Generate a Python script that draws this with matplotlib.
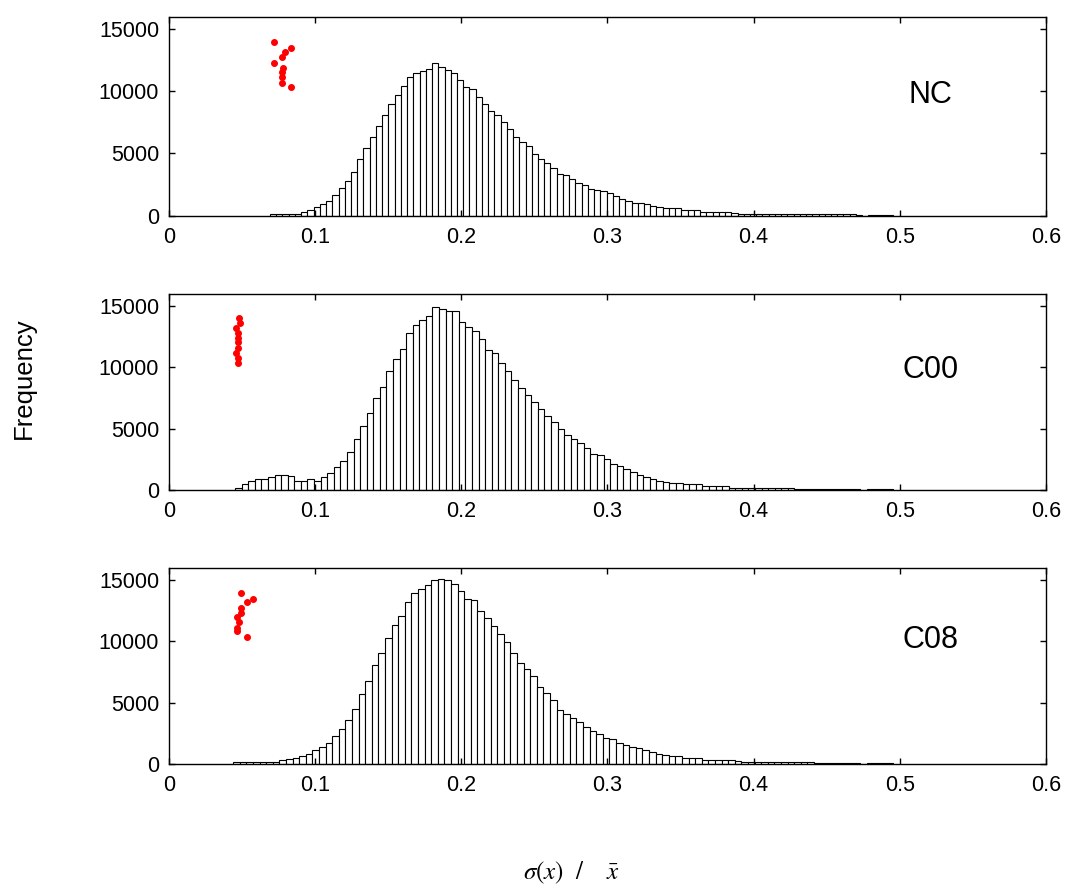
import matplotlib
matplotlib.use("Agg")
import matplotlib.pyplot as plt
import numpy as np

plt.rcParams["font.family"] = ["Liberation Sans", "DejaVu Sans"]
plt.rcParams["mathtext.fontset"] = "stix"

# bin ranges (lower edge of first bin, upper edge of last bin), 100 bins each
NC_RANGE = (0.0691, 0.4956)
C00_RANGE = (0.0452, 0.4955)
C08_RANGE = (0.0440, 0.4955)

NC_COUNTS = [
    120, 130, 130, 140, 160,
    267, 427, 694, 907, 1174, 1628, 2189, 2802, 3523, 4564,
    5471, 6326, 7206, 8114, 8968, 9715, 10436, 11183, 11503, 11663,
    11824, 12251, 11930, 11744, 11503, 10890, 10329, 10196, 9555, 8995,
    8407, 8114, 7527, 6939, 6326, 5925, 5578, 4991, 4564, 4244,
    3843, 3390, 3230, 2909, 2642, 2455, 2162, 2055, 2000, 1842,
    1575, 1335, 1174, 1041, 1041, 907, 774, 721, 587, 587,
    587, 427, 427, 427, 320, 320, 320, 320, 320, 187,
    150, 150, 145, 140, 140, 135, 130, 130, 125, 120,
    120, 115, 110, 110, 105, 100, 100, 95, 95, 90,
    0, 90, 85, 85, 80,
]

C00_COUNTS = [
    135, 460, 757, 919, 919, 1054, 1216, 1216, 1135, 757,
    757, 919, 757, 1054, 1351, 1838, 2406, 3135, 4189, 5217,
    6298, 7487, 8379, 9703, 10730, 11487, 12811, 13433, 13892, 14190,
    14946, 14784, 14649, 14649, 13730, 13298, 12946, 12352, 11460, 11162,
    10325, 9703, 8946, 8352, 7757, 7190, 6596, 6000, 5514, 4973,
    4514, 4189, 3865, 3433, 2973, 2892, 2568, 2162, 1973, 1676,
    1487, 1216, 1081, 865, 730, 676, 595, 595, 460, 460,
    460, 324, 324, 324, 324, 189,
    150, 150, 145, 140, 140, 135, 130, 130, 125, 120,
    120, 115, 110, 110, 105, 100, 100, 95, 95,
    0, 90, 85, 85, 80,
]

C08_COUNTS = [
    140, 150, 160, 160, 160, 170, 170,
    349, 403, 484, 618, 806, 1129, 1371, 1693, 2285, 2876,
    3629, 4489, 5699, 6747, 8064, 9085, 10321, 11316, 12042, 13252,
    13978, 14246, 14569, 15000, 15134, 15000, 14730, 14139, 13467, 13360,
    12526, 11881, 11290, 10618, 9946, 9085, 8279, 7742, 7204, 6263,
    5752, 5242, 4382, 4113, 3763, 3441, 2984, 2715,
    2450, 2150, 2043, 1693, 1532, 1371, 1290, 1156, 968, 806,
    699, 618, 618, 484, 484, 484, 349, 349, 349, 349, 349, 215,
    160, 155, 150, 150, 145, 140, 135, 130, 130, 125,
    120, 115, 110, 110, 105, 100, 100, 95,
    0, 90, 85, 85, 80,
]

# red reference points (x, frequency)
NC_PTS_X = [0.0720, 0.0835, 0.0796, 0.0771, 0.0720, 0.0782, 0.0771, 0.0771, 0.0771, 0.0835]
NC_PTS_Y = [13927, 13479, 13183, 12726, 12302, 11878, 11558, 11126, 10701, 10381]
C00_PTS_X = [0.0481, 0.0486, 0.0458, 0.0470, 0.0470, 0.0470, 0.0470, 0.0458, 0.0470, 0.0470]
C00_PTS_Y = [14051, 13597, 13240, 12810, 12405, 12053, 11622, 11162, 10811, 10378]
C08_PTS_X = [0.0493, 0.0573, 0.0531, 0.0493, 0.0493, 0.0467, 0.0481, 0.0467, 0.0467, 0.0531]
C08_PTS_Y = [13953, 13494, 13196, 12740, 12309, 12011, 11554, 11097, 10827, 10397]

PANELS = [
    ("NC", NC_RANGE, NC_COUNTS, NC_PTS_X, NC_PTS_Y, [0.1585, 0.7585, 0.8227, 0.2228], 0.607),
    ("C00", C00_RANGE, C00_COUNTS, C00_PTS_X, C00_PTS_Y, [0.1585, 0.4513, 0.8227, 0.2195], 0.612),
    ("C08", C08_RANGE, C08_COUNTS, C08_PTS_X, C08_PTS_Y, [0.1585, 0.1445, 0.8227, 0.2195], 0.633),
]

fig = plt.figure(figsize=(10.66, 8.93), dpi=100)

for name, rng, counts, px, py, pos, ty in PANELS:
    ax = fig.add_axes(pos)
    edges = np.linspace(rng[0], rng[1], len(counts) + 1)
    ax.bar(edges[:-1], counts, width=np.diff(edges), align="edge",
           facecolor="white", edgecolor="black", linewidth=0.8)
    ax.plot(px, py, "o", color="red", ms=4, mec="red")
    ax.set_xlim(0, 0.6)
    ax.set_ylim(0, 16000)
    ax.set_xticks([0, 0.1, 0.2, 0.3, 0.4, 0.5, 0.6])
    ax.set_xticklabels(["0", "0.1", "0.2", "0.3", "0.4", "0.5", "0.6"])
    ax.set_yticks([0, 5000, 10000, 15000])
    ax.tick_params(direction="in", top=True, right=True, length=4,
                   width=1, labelsize=15.5)
    ax.tick_params(axis="x", pad=8)
    ax.tick_params(axis="y", pad=7)
    for sp in ax.spines.values():
        sp.set_linewidth(1)
    ax.text(0.868, ty, name, transform=ax.transAxes, ha="center",
            va="center", fontsize=22)

fig.text(0.0225, 0.576, "Frequency", rotation=90, ha="center",
         va="center", fontsize=18.5)
fig.text(0.536, 0.0225, r"$\sigma(x)\ \ /\ \ \ \ \bar{x}$", ha="center",
         va="center", fontsize=18)

fig.savefig("out.png", dpi=100)
